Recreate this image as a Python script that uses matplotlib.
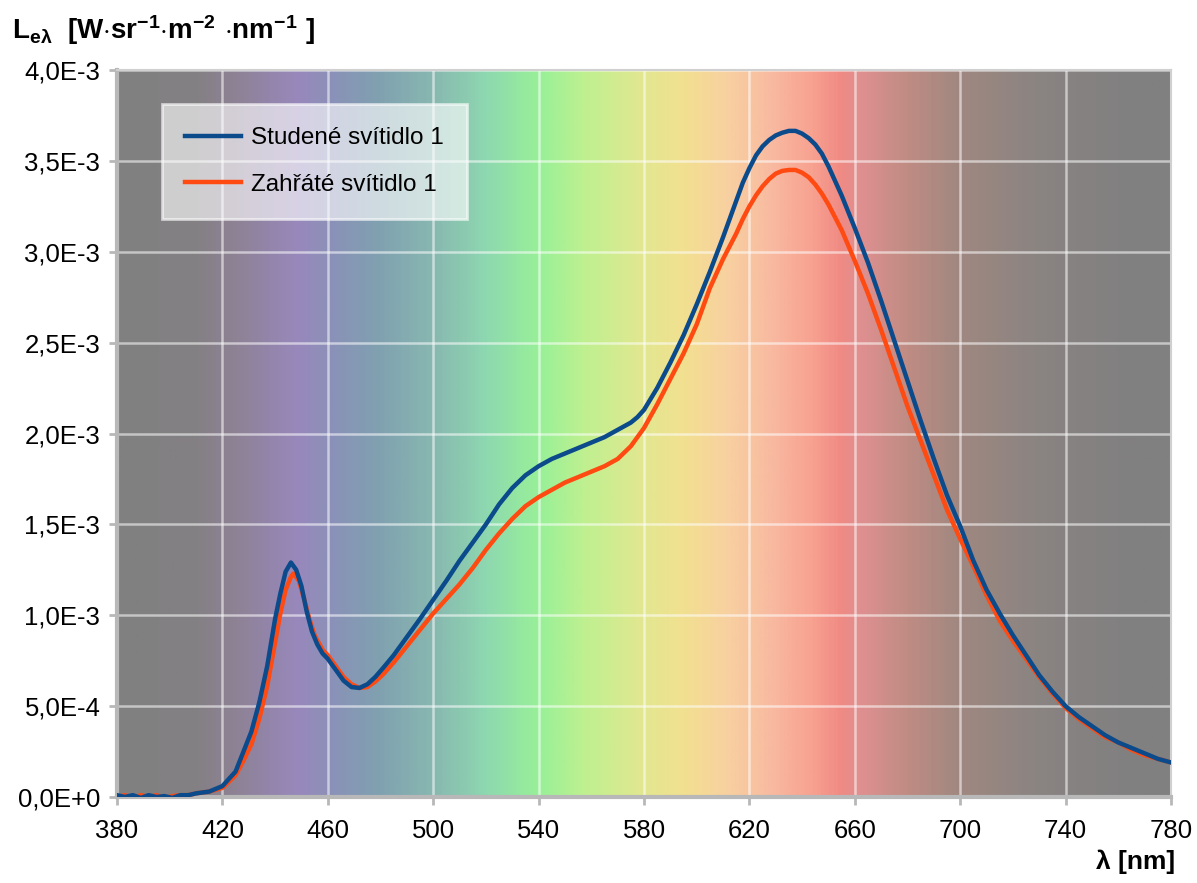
import numpy as np
import matplotlib
matplotlib.use('Agg')
import matplotlib.pyplot as plt
from matplotlib.colors import LinearSegmentedColormap
from matplotlib.ticker import FuncFormatter, MultipleLocator, FixedLocator

plt.rcParams['font.family'] = ['Liberation Sans', 'DejaVu Sans']
plt.rcParams['mathtext.fontset'] = 'custom'
plt.rcParams['mathtext.rm'] = 'Liberation Sans'
plt.rcParams['mathtext.bf'] = 'Liberation Sans:bold'
plt.rcParams['axes.unicode_minus'] = False

# data (values in 1E-3 W.sr-1.m-2.nm-1)
wl_cold = [380, 383, 386, 389, 392, 395, 398, 401, 404, 407, 410, 415, 420, 425, 428, 431, 434, 437,
           440, 442, 444, 446, 448, 450, 452, 454, 456, 458, 460, 463, 466, 469, 472, 475, 478,
           481, 485, 490, 495, 500, 505, 510, 515, 520, 525, 530, 535, 540, 545, 550, 555, 560,
           565, 570, 575, 577.5, 580, 585, 590, 595, 600, 605, 610, 615, 617.5, 620, 622.5, 625, 627.5,
           630, 632.5, 635, 637.5, 640, 642.5, 645, 647.5, 650, 652.5, 655, 660, 665, 670, 675,
           680, 685, 690, 695, 700, 705, 710, 715, 720, 725, 730,
           735, 740, 745, 750, 755, 760, 765, 770, 775, 780]
cold = [0.01, 0.00, 0.01, -0.005, 0.01, 0.0, 0.005, -0.005, 0.01, 0.01, 0.02, 0.03, 0.06, 0.14, 0.25, 0.36, 0.52, 0.72,
        0.98, 1.12, 1.24, 1.29, 1.25, 1.16, 1.02, 0.91, 0.84, 0.79, 0.76, 0.70, 0.64, 0.605, 0.60, 0.62, 0.66,
        0.71, 0.78, 0.88, 0.98, 1.085, 1.19, 1.30, 1.40, 1.50, 1.61, 1.70, 1.77, 1.82, 1.86, 1.89, 1.92, 1.95,
        1.98, 2.02, 2.06, 2.09, 2.13, 2.25, 2.39, 2.54, 2.71, 2.89, 3.08, 3.28, 3.38, 3.46, 3.53, 3.58, 3.615,
        3.64, 3.655, 3.665, 3.665, 3.65, 3.625, 3.59, 3.54, 3.47, 3.39, 3.31, 3.13, 2.94, 2.73, 2.51,
        2.29, 2.07, 1.86, 1.66, 1.49, 1.30, 1.14, 1.01, 0.89, 0.78, 0.67,
        0.58, 0.50, 0.44, 0.39, 0.34, 0.30, 0.27, 0.24, 0.21, 0.19]

wl_warm = [380, 383, 386, 389, 392, 395, 398, 401, 404, 407, 410, 415, 420, 425, 428, 431, 434, 437,
           440, 442, 444, 446, 447, 449, 451, 453, 455, 458, 460, 463, 466, 469, 472, 475, 478,
           481, 485, 490, 495, 500, 505, 510, 515, 520, 525, 530, 535, 540, 545, 550, 555, 560,
           565, 570, 575, 580, 585, 590, 595, 600, 605, 610, 615, 617.5, 620, 622.5, 625, 627.5,
           630, 632.5, 635, 637.5, 640, 642.5, 645, 647.5, 650, 652.5, 655, 660, 665, 670, 675,
           680, 685, 690, 695, 700, 705, 710, 715, 720, 725, 730,
           735, 740, 745, 750, 755, 760, 765, 770, 775, 780]
warm = [0.0, 0.01, -0.005, 0.01, 0.0, 0.01, -0.005, 0.005, 0.01, 0.01, 0.02, 0.03, 0.05, 0.12, 0.20, 0.29, 0.43, 0.61,
        0.85, 1.01, 1.14, 1.21, 1.23, 1.19, 1.09, 0.98, 0.89, 0.81, 0.78, 0.72, 0.66, 0.62, 0.60, 0.605, 0.635,
        0.675, 0.74, 0.83, 0.92, 1.01, 1.09, 1.17, 1.26, 1.36, 1.45, 1.53, 1.60, 1.65, 1.69, 1.73, 1.76, 1.79,
        1.82, 1.86, 1.93, 2.03, 2.16, 2.30, 2.44, 2.60, 2.80, 2.96, 3.10, 3.18, 3.25, 3.31, 3.36, 3.40,
        3.43, 3.445, 3.45, 3.45, 3.435, 3.41, 3.37, 3.32, 3.26, 3.19, 3.12, 2.95, 2.77, 2.57, 2.36,
        2.15, 1.96, 1.77, 1.58, 1.42, 1.27, 1.11, 0.97, 0.86, 0.76, 0.66,
        0.57, 0.49, 0.43, 0.38, 0.33, 0.30, 0.26, 0.23, 0.21, 0.19]

labels = ['Studené svítidlo 1', 'Zahřáté svítidlo 1']
x_ticks = [380, 420, 460, 500, 540, 580, 620, 660, 700, 740, 780]

# spectrum background stops
bg_stops = [(380, '#808080'), (410, '#848084'), (425, '#8e8296'), (448, '#9888bc'), (462, '#8a92b8'),
            (478, '#80a0b0'), (500, '#88b8b0'), (520, '#8ed8b0'), (540, '#98f098'), (558, '#c0f090'),
            (578, '#e0e890'), (595, '#f2e090'), (612, '#f8d0a0'), (630, '#f8b8a0'), (645, '#f8a090'),
            (655, '#f08a84'), (662, '#e09090'), (680, '#c08c84'), (700, '#a08880'), (730, '#8a8482'),
            (760, '#828080'), (780, '#808080')]
cmap = LinearSegmentedColormap.from_list(
    'spec', [((w - 380) / 400, c) for w, c in bg_stops])

fig = plt.figure(figsize=(11.97, 8.83), dpi=100)
ax = fig.add_axes([117 / 1197, 1 - 797 / 883, 1054 / 1197, 727 / 883])

grad = np.linspace(0, 1, 800).reshape(1, -1)
ax.imshow(grad, cmap=cmap, aspect='auto', extent=[380, 780, 0, 4.0e-3], zorder=0)

ax.plot(wl_cold, np.array(cold) * 1e-3, color='#0b4a8b', lw=3.2, label=labels[0], zorder=4,
        solid_joinstyle='round')
ax.plot(wl_warm, np.array(warm) * 1e-3, color='#ff4a12', lw=3.2, label=labels[1], zorder=3,
        solid_joinstyle='round')

ax.set_xlim(380, 780)
ax.set_ylim(0, 4.0e-3)
ax.xaxis.set_major_locator(FixedLocator(x_ticks))
ax.yaxis.set_major_locator(MultipleLocator(5e-4))


def yfmt(v, pos):
    if abs(v) < 1e-12:
        return '0,0E+0'
    s = '%.1E' % v
    mant, ex = s.split('E')
    return mant.replace('.', ',') + 'E' + str(int(ex))


ax.yaxis.set_major_formatter(FuncFormatter(yfmt))
ax.grid(True, color='white', alpha=0.55, lw=1.8)
for gl in ax.get_xgridlines() + ax.get_ygridlines():
    gl.set_zorder(1)

for sp in ['left', 'bottom']:
    ax.spines[sp].set_color('#b8b8b8')
    ax.spines[sp].set_linewidth(3)
for sp in ['right', 'top']:
    ax.spines[sp].set_color('#d0d0d0')
    ax.spines[sp].set_linewidth(1.5)
ax.tick_params(axis='both', colors='#b8b8b8', width=2, length=6, labelsize=18.5, labelcolor='black')
ax.tick_params(axis='x', pad=10)
ax.tick_params(axis='y', pad=6)

leg = ax.legend(loc='upper left', bbox_to_anchor=(0.043, 0.953), fontsize=17.5, frameon=True,
                fancybox=False, handlelength=2.3, handletextpad=0.4, labelspacing=1.0,
                borderpad=0.95, borderaxespad=0)
leg.get_frame().set_facecolor('#ffffff')
leg.get_frame().set_alpha(0.62)
leg.get_frame().set_edgecolor('white')
leg.get_frame().set_linewidth(2)

fig.text(12 / 1197, 1 - 30 / 883,
         r'$\mathbf{L}_{\mathbf{e\lambda}}$  $\mathbf{[W{\cdot}sr^{-1}{\cdot}m^{-2}\ {\cdot}nm^{-1}\ ]}$',
         fontsize=20, va='center', ha='left')
fig.text(1175 / 1197, 1 - 862 / 883, 'λ [nm]', fontsize=19, fontweight='bold', va='center', ha='right')

fig.savefig('out.png', dpi=100)
